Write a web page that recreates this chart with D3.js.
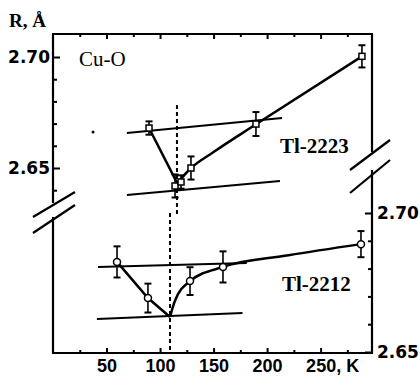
<!DOCTYPE html>
<html>
<head>
<meta charset="utf-8">
<script src="https://cdn.jsdelivr.net/npm/d3@7"></script>
<style>
  body { margin: 0; background: #fff; }
  svg { display: block; }
</style>
</head>
<body>
<div id="chart"></div>
<script>
// temperature (K) and Cu-O distance (A)
const tl2223T = [89.7, 114, 119.6, 128.9, 189.6, 288.6];
const tl2223R = [2.668, 2.6419, 2.6437, 2.650, 2.6698, 2.7003];
const tl2223Err = [0.003, 0.0052, 0.003, 0.0052, 0.0054, 0.005];

const tl2212T = [59.8, 88.7, 128, 158.8, 287.7];
const tl2212R = [2.6824, 2.6694, 2.6755, 2.6806, 2.6888];
const tl2212Err = [0.0056, 0.0052, 0.005, 0.0056, 0.0047];

// guide curves drawn through the points
const fit2223LeftT = [89.7, 116];
const fit2223LeftR = [2.668, 2.6432];
const fit2223RightT = [116, 129, 150, 190, 288.6];
const fit2223RightR = [2.6432, 2.650, 2.6572, 2.6698, 2.7003];

const fit2212LeftT = [59.8, 88.7, 109.3];
const fit2212LeftR = [2.6824, 2.6694, 2.6626];
const fit2212RightT = [109.3, 113.5, 128, 158.8, 220, 287.7];
const fit2212RightR = [2.6626, 2.668, 2.6755, 2.6806, 2.6848, 2.6888];

// straight reference lines [T0, R0, T1, R1]
const lines2223 = [[69, 2.6658, 214, 2.6725], [69, 2.6378, 212, 2.6441]];
const lines2212 = [[42, 2.6806, 181, 2.682], [41, 2.6619, 177, 2.664]];

// transition temperatures (dashed)
const tc2223 = [115.8, 2.6784, 2.6288];
const tc2212 = [109.3, 2.70, 2.65];

const specks = [[37.4, 2.6662]];

const xTicksMajor = [50, 100, 150, 200, 250];
const xTicksMinor = [25, 75, 125, 175, 225, 275];
const yTicksMajor = [2.65, 2.70];
const yTicksMinor = [2.64, 2.66, 2.67, 2.68, 2.69];
const yRTicksMinor = [2.66, 2.67, 2.68, 2.69];

const W = 420, H = 377;
const mLeft = 53, mRight = 372, mTop = 34, mBottom = 353;

const x = d3.scaleLinear().domain([0, 298]).range([mLeft, mRight]);
const yL = d3.scaleLinear().domain([2.65, 2.70]).range([168, 57]);
const yR = d3.scaleLinear().domain([2.65, 2.70]).range([352, 213]);

const svg = d3.select("#chart").append("svg")
  .attr("width", W).attr("height", H);

// frame, broken on both sides
const frame = svg.append("g").attr("stroke", "#000").attr("stroke-width", 2.2).attr("fill", "none");
frame.append("line").attr("x1", mLeft - 1).attr("x2", mRight + 1).attr("y1", mTop).attr("y2", mTop);
frame.append("line").attr("x1", mLeft - 1).attr("x2", mRight + 1).attr("y1", mBottom).attr("y2", mBottom);
frame.append("line").attr("x1", mLeft).attr("x2", mLeft).attr("y1", mTop).attr("y2", 203);
frame.append("line").attr("x1", mLeft).attr("x2", mLeft).attr("y1", 217).attr("y2", mBottom);
frame.append("line").attr("x1", mRight).attr("x2", mRight).attr("y1", mTop).attr("y2", 152);
frame.append("line").attr("x1", mRight).attr("x2", mRight).attr("y1", 170).attr("y2", mBottom);
// break marks
[[33, 217, 75, 192], [33, 233, 75, 205], [350, 170, 390, 140], [350, 193, 390, 160]].forEach(s => {
  frame.append("line").attr("x1", s[0]).attr("y1", s[1]).attr("x2", s[2]).attr("y2", s[3]);
});

function styleAxis(g) {
  g.select(".domain").remove();
  g.selectAll(".tick line").attr("stroke", "#000").attr("stroke-width", 2);
}

// x axes (ticks pointing inward)
svg.append("g").attr("transform", `translate(0,${mBottom})`)
  .call(d3.axisBottom(x).tickValues(xTicksMinor).tickSizeInner(-3).tickSizeOuter(0).tickFormat(""))
  .call(styleAxis);
const xb = svg.append("g").attr("transform", `translate(0,${mBottom})`)
  .call(d3.axisBottom(x).tickValues(xTicksMajor).tickSizeInner(-5).tickSizeOuter(0).tickPadding(6)
    .tickFormat(d => d === 250 ? "250, K" : d))
  .call(styleAxis);
xb.selectAll("text")
  .attr("font-family", "Liberation Sans, Arial, sans-serif")
  .attr("font-weight", "bold").attr("font-size", 18).attr("fill", "#000");
xb.selectAll(".tick").filter(d => d === 250).select("text")
  .attr("text-anchor", "start").attr("x", -15);

svg.append("g").attr("transform", `translate(0,${mTop})`)
  .call(d3.axisTop(x).tickValues(xTicksMinor).tickSizeInner(-3).tickSizeOuter(0).tickFormat(""))
  .call(styleAxis);
svg.append("g").attr("transform", `translate(0,${mTop})`)
  .call(d3.axisTop(x).tickValues(xTicksMajor).tickSizeInner(-5).tickSizeOuter(0).tickFormat(""))
  .call(styleAxis);

// left axis (Tl-2223)
svg.append("g").attr("transform", `translate(${mLeft},0)`)
  .call(d3.axisLeft(yL).tickValues(yTicksMinor).tickSizeInner(-4).tickSizeOuter(0).tickFormat(""))
  .call(styleAxis);
const yl = svg.append("g").attr("transform", `translate(${mLeft},0)`)
  .call(d3.axisLeft(yL).tickValues(yTicksMajor).tickSizeInner(-7).tickSizeOuter(0).tickPadding(3)
    .tickFormat(d3.format(".2f")))
  .call(styleAxis);

// right axis (Tl-2212)
svg.append("g").attr("transform", `translate(${mRight},0)`)
  .call(d3.axisRight(yR).tickValues(yRTicksMinor).tickSizeInner(-4).tickSizeOuter(0).tickFormat(""))
  .call(styleAxis);
const yr = svg.append("g").attr("transform", `translate(${mRight},0)`)
  .call(d3.axisRight(yR).tickValues(yTicksMajor).tickSizeInner(-7).tickSizeOuter(0).tickPadding(5)
    .tickFormat(d3.format(".2f")))
  .call(styleAxis);

[yl, yr].forEach(g => g.selectAll("text")
  .attr("font-family", "DejaVu Sans, sans-serif")
  .attr("font-weight", "bold").attr("font-size", 17).attr("fill", "#000"));

// reference lines
const plot = svg.append("g").attr("fill", "none").attr("stroke", "#000");
lines2223.forEach(l => plot.append("line").attr("stroke-width", 2)
  .attr("x1", x(l[0])).attr("y1", yL(l[1])).attr("x2", x(l[2])).attr("y2", yL(l[3])));
lines2212.forEach(l => plot.append("line").attr("stroke-width", 2)
  .attr("x1", x(l[0])).attr("y1", yR(l[1])).attr("x2", x(l[2])).attr("y2", yR(l[3])));

plot.append("line").attr("stroke-width", 2).attr("stroke-dasharray", "4,3")
  .attr("x1", x(tc2223[0])).attr("x2", x(tc2223[0])).attr("y1", yL(tc2223[1])).attr("y2", yL(tc2223[2]));
plot.append("line").attr("stroke-width", 2).attr("stroke-dasharray", "4,3")
  .attr("x1", x(tc2212[0])).attr("x2", x(tc2212[0])).attr("y1", yR(tc2212[1])).attr("y2", yR(tc2212[2]));

// guide curves
function curve(ts, rs, y, c) {
  return d3.line().x(i => x(ts[i])).y(i => y(rs[i])).curve(c)(d3.range(ts.length));
}
plot.append("path").attr("stroke-width", 2.5).attr("d", curve(fit2223LeftT, fit2223LeftR, yL, d3.curveLinear));
plot.append("path").attr("stroke-width", 2.5).attr("d", curve(fit2223RightT, fit2223RightR, yL, d3.curveMonotoneX));
plot.append("path").attr("stroke-width", 2.5).attr("d", curve(fit2212LeftT, fit2212LeftR, yR, d3.curveLinear));
plot.append("path").attr("stroke-width", 2.5).attr("d", curve(fit2212RightT, fit2212RightR, yR, d3.curveMonotoneX));

// error bars
function errorBars(ts, rs, es, y) {
  ts.forEach((t, i) => {
    const cx = x(t), y0 = y(rs[i] + es[i]), y1 = y(rs[i] - es[i]);
    plot.append("line").attr("stroke-width", 1.6).attr("x1", cx).attr("x2", cx).attr("y1", y0).attr("y2", y1);
    plot.append("line").attr("stroke-width", 2).attr("x1", cx - 3.5).attr("x2", cx + 3.5).attr("y1", y0).attr("y2", y0);
    plot.append("line").attr("stroke-width", 2).attr("x1", cx - 3.5).attr("x2", cx + 3.5).attr("y1", y1).attr("y2", y1);
  });
}
errorBars(tl2223T, tl2223R, tl2223Err, yL);
errorBars(tl2212T, tl2212R, tl2212Err, yR);

// markers
svg.append("g").selectAll("rect").data(d3.range(tl2223T.length)).join("rect")
  .attr("x", i => x(tl2223T[i]) - 3).attr("y", i => yL(tl2223R[i]) - 3)
  .attr("width", 6).attr("height", 6)
  .attr("fill", "#fff").attr("stroke", "#000").attr("stroke-width", 1.5);

svg.append("g").selectAll("circle").data(d3.range(tl2212T.length)).join("circle")
  .attr("cx", i => x(tl2212T[i])).attr("cy", i => yR(tl2212R[i])).attr("r", 3.5)
  .attr("fill", "#fff").attr("stroke", "#000").attr("stroke-width", 1.5);

svg.append("g").selectAll("circle").data(specks).join("circle")
  .attr("cx", d => x(d[0])).attr("cy", d => yL(d[1])).attr("r", 1.5).attr("fill", "#000");

// labels
svg.append("text").attr("x", 9).attr("y", 27)
  .attr("font-family", "Liberation Serif, Times New Roman, serif")
  .attr("font-weight", "bold").attr("font-size", 19).text("R, Å");
svg.append("text").attr("x", 79).attr("y", 66)
  .attr("font-family", "Liberation Serif, Times New Roman, serif")
  .attr("font-size", 21).text("Cu-O");
svg.append("text").attr("x", 280).attr("y", 153)
  .attr("font-family", "Liberation Serif, Times New Roman, serif")
  .attr("font-weight", "bold").attr("font-size", 21).text("Tl-2223");
svg.append("text").attr("x", 282).attr("y", 291)
  .attr("font-family", "Liberation Serif, Times New Roman, serif")
  .attr("font-weight", "bold").attr("font-size", 21).text("Tl-2212");
</script>
</body>
</html>
